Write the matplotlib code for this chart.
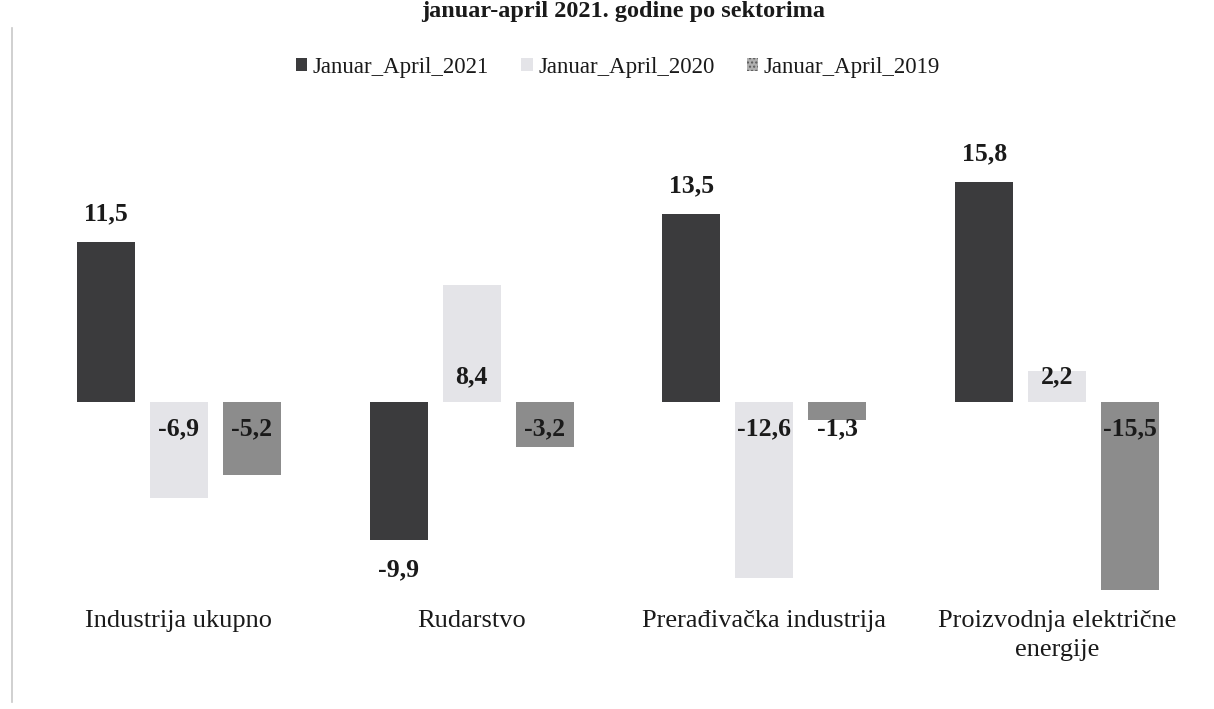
import matplotlib
matplotlib.use('Agg')
import matplotlib.pyplot as plt
import matplotlib.transforms as mtransforms
from matplotlib.patches import Patch
import numpy as np

# ---- data ----
title = 'januar-april 2021. godine po sektorima'
categories = ['Industrija ukupno', 'Rudarstvo', 'Prerađivačka industrija',
              'Proizvodnja električne\nenergije']
series_names = ['Januar_April_2021', 'Januar_April_2020', 'Januar_April_2019']
v2021 = [11.5, -9.9, 13.5, 15.8]
v2020 = [-6.9, 8.4, -12.6, 2.2]
v2019 = [-5.2, -3.2, -1.3, -15.5]

# ---- style ----
plt.rcParams['font.family'] = ['Liberation Serif', 'DejaVu Serif']
plt.rcParams['hatch.color'] = '#5a5a5a'
colors = ['#3b3b3d', '#e4e4e8', '#8c8c8c']
label_mode = ['outside', 'base', 'base']

W, H = 1214, 709
fig = plt.figure(figsize=(W / 100, H / 100), dpi=100)
fig.patch.set_facecolor('white')

# axes placement (pixels from top/left)
px_per_unit = 13.95
zero_px = 402
y_top_px, y_bot_px = 150, 590
ylim_top = (zero_px - y_top_px) / px_per_unit
ylim_bot = -(y_bot_px - zero_px) / px_per_unit
x_left_px, x_right_px = 32.5, 1203.5
ax = fig.add_axes([x_left_px / W, (H - y_bot_px) / H,
                   (x_right_px - x_left_px) / W, (y_bot_px - y_top_px) / H])
ax.set_xlim(-0.5, 3.5)
ax.set_ylim(ylim_bot, ylim_top)
ax.axis('off')

x = np.arange(len(categories))
bw = 0.198
offsets = [-0.249, 0.0, 0.249]
all_vals = [v2021, v2020, v2019]

for vals, name, col, off, mode in zip(all_vals, series_names, colors, offsets, label_mode):
    ax.bar(x + off, vals, width=bw, color=col, label=name, zorder=2)
    for xi, v in zip(x, vals):
        txt = f'{v:.1f}'.replace('.', ',')
        if mode == 'outside':
            y = v + (2.0 if v > 0 else -2.15)
        else:
            y = 1.8 if v > 0 else -1.9
        ax.text(xi + off, y, txt, ha='center', va='center', fontsize=18.5,
                fontweight='bold', color='#1a1a1a', zorder=3)

# category labels (each line placed on its own baseline)
trans = mtransforms.blended_transform_factory(ax.transData, fig.transFigure)
line_gap_px = 29
for xi, c in zip(x, categories):
    for k, line in enumerate(c.split('\n')):
        ax.text(xi, 1 - (627 + k * line_gap_px) / H, line, transform=trans,
                ha='center', va='baseline', fontsize=19, color='#1a1a1a')

# legend
handles = [Patch(facecolor=colors[0]), Patch(facecolor=colors[1]),
           Patch(facecolor='#b0b0b0', hatch='....', linewidth=0)]
leg = fig.legend(handles, series_names, loc='center',
                 bbox_to_anchor=(618 / W, 1 - 67 / H), ncol=3,
                 frameon=False, fontsize=16.5, handlelength=0.5, handleheight=0.5,
                 handletextpad=0.25, columnspacing=1.4)
for t in leg.get_texts():
    t.set_color('#1a1a1a')

# title (partly cut at top as in the scan)
fig.text(623 / W, 1 - 17 / H, title, ha='center', va='baseline', fontsize=17.5,
         fontweight='bold', color='#1a1a1a')

# faint left border line of the scanned frame
fig.add_artist(plt.Line2D([12 / W, 12 / W], [0.01, 0.96], color='#c8c8c8', lw=1.2))

fig.savefig('out.png', dpi=100, facecolor='white')
